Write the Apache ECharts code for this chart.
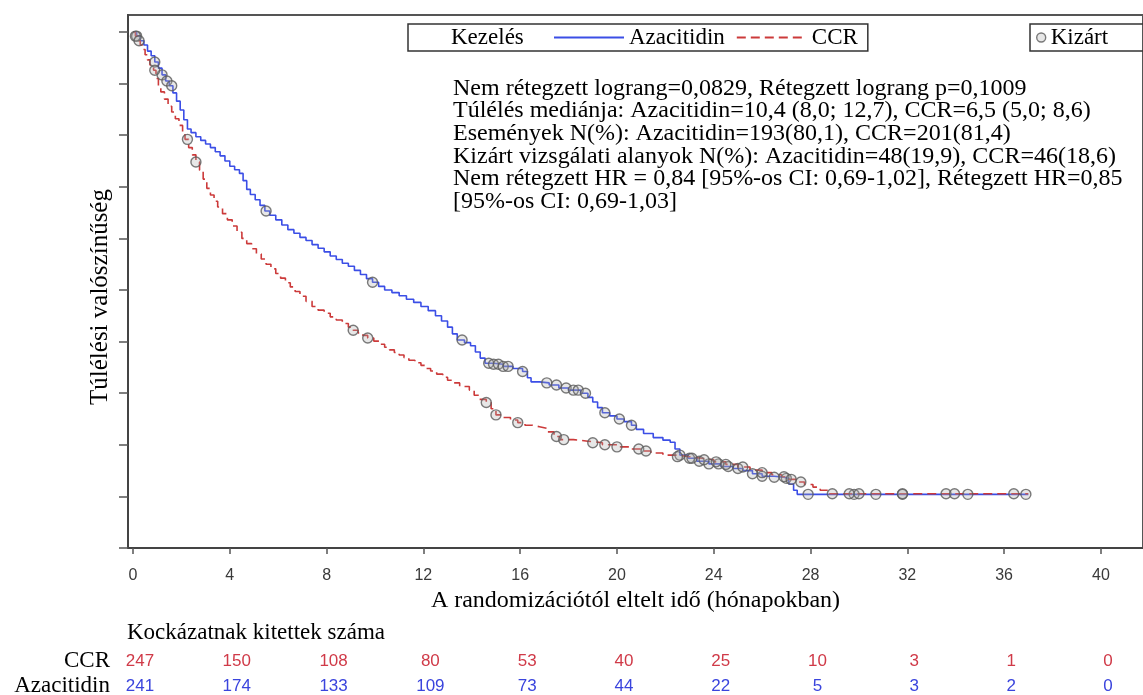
<!DOCTYPE html>
<html>
<head>
<meta charset="utf-8">
<script src="https://cdn.jsdelivr.net/npm/echarts@6.0.0/dist/echarts.min.js"></script>
<style>
html,body{margin:0;padding:0;background:#fff;}
#chart{width:1143px;height:695px;}
</style>
</head>
<body>
<div id="chart"></div>
<script>
// ---- Data ----
const xTicks = [0, 4, 8, 12, 16, 20, 24, 28, 32, 36, 40];
const yTicks = [0, 0.1, 0.2, 0.3, 0.4, 0.5, 0.6, 0.7, 0.8, 0.9, 1.0];

// Kaplan-Meier steps: [time (months), survival after the step]
const azaSteps = [
  [0,1.0],[0.15,0.992],[0.3,0.983],[0.45,0.975],[0.6,0.963],[0.75,0.954],[0.9,0.942],[1.05,0.930],
  [1.2,0.917],[1.35,0.905],[1.5,0.896],[1.65,0.882],[1.8,0.866],[1.95,0.849],[2.1,0.830],[2.25,0.812],
  [2.4,0.805],[2.6,0.797],[2.8,0.790],[3.0,0.783],[3.2,0.776],[3.4,0.768],[3.6,0.760],[3.8,0.750],
  [4.0,0.740],[4.2,0.733],[4.4,0.726],[4.55,0.712],[4.7,0.695],[4.85,0.685],[5.05,0.675],[5.25,0.664],
  [5.45,0.653],[5.65,0.645],[5.9,0.636],[6.15,0.626],[6.4,0.617],[6.65,0.610],[6.9,0.602],[7.15,0.596],
  [7.4,0.588],[7.65,0.581],[7.9,0.574],[8.15,0.566],[8.4,0.559],[8.65,0.552],[8.9,0.546],[9.15,0.538],
  [9.4,0.530],[9.65,0.522],[9.9,0.515],[10.15,0.507],[10.4,0.500],[10.7,0.495],[11.0,0.489],[11.3,0.482],
  [11.6,0.476],[11.9,0.468],[12.2,0.460],[12.5,0.450],[12.75,0.440],[13.0,0.428],[13.2,0.415],[13.4,0.403],
  [13.7,0.398],[13.95,0.392],[14.15,0.380],[14.35,0.368],[14.55,0.358],[14.9,0.356],[15.3,0.352],[15.7,0.348],
  [16.1,0.342],[16.3,0.330],[16.45,0.322],[16.8,0.320],[17.2,0.316],[17.6,0.310],[18.0,0.306],[18.5,0.300],
  [18.8,0.292],[19.0,0.283],[19.2,0.272],[19.4,0.262],[19.7,0.256],[20.0,0.250],[20.3,0.245],[20.6,0.238],
  [20.8,0.230],[21.1,0.222],[21.5,0.214],[21.9,0.209],[22.2,0.205],[22.4,0.192],[22.6,0.180],[22.95,0.174],
  [23.3,0.168],[23.8,0.163],[24.3,0.158],[24.8,0.154],[25.2,0.150],[25.6,0.144],[26.0,0.139],[26.5,0.137],
  [26.9,0.135],[27.1,0.124],[27.3,0.112],[27.45,0.104],[37.0,0.104]
];
const ccrSteps = [
  [0,1.0],[0.1,0.992],[0.2,0.983],[0.3,0.975],[0.4,0.966],[0.5,0.956],[0.6,0.946],[0.7,0.936],
  [0.85,0.926],[0.95,0.910],[1.05,0.895],[1.15,0.884],[1.3,0.870],[1.45,0.856],[1.6,0.845],[1.75,0.832],
  [1.9,0.819],[2.05,0.805],[2.15,0.792],[2.3,0.776],[2.45,0.762],[2.6,0.748],[2.75,0.732],[2.9,0.715],
  [3.05,0.697],[3.2,0.684],[3.35,0.672],[3.5,0.661],[3.7,0.648],[3.9,0.636],[4.1,0.624],[4.3,0.612],
  [4.5,0.600],[4.7,0.590],[4.9,0.580],[5.1,0.570],[5.3,0.560],[5.5,0.550],[5.7,0.541],[5.9,0.532],
  [6.1,0.523],[6.3,0.514],[6.5,0.506],[6.7,0.497],[6.9,0.488],[7.15,0.478],[7.4,0.468],[7.65,0.461],
  [7.9,0.455],[8.15,0.448],[8.4,0.442],[8.65,0.435],[8.9,0.428],[9.1,0.422],[9.3,0.417],[9.5,0.412],
  [9.7,0.407],[9.95,0.401],[10.2,0.395],[10.4,0.389],[10.6,0.384],[10.8,0.379],[11.0,0.374],[11.2,0.369],
  [11.4,0.364],[11.65,0.359],[11.9,0.354],[12.1,0.348],[12.3,0.343],[12.55,0.337],[12.8,0.331],[13.0,0.325],
  [13.2,0.320],[13.5,0.313],[13.9,0.306],[14.1,0.296],[14.3,0.288],[14.6,0.282],[14.8,0.270],[15.0,0.258],
  [15.3,0.253],[15.6,0.248],[15.9,0.243],[16.2,0.238],[16.5,0.235],[16.8,0.232],[17.1,0.225],[17.4,0.216],
  [17.65,0.210],[18.2,0.207],[18.8,0.204],[19.4,0.200],[20.0,0.196],[20.5,0.192],[21.0,0.188],[21.4,0.184],
  [21.9,0.180],[22.5,0.177],[23.0,0.174],[23.5,0.171],[24.0,0.167],[24.5,0.162],[25.0,0.157],[25.5,0.151],
  [26.0,0.146],[26.4,0.142],[26.8,0.138],[27.1,0.133],[27.4,0.128],[27.75,0.123],[28.1,0.118],[28.4,0.112],
  [28.7,0.105],[37.0,0.105]
];

// Censoring times (months)
const azaCensorTimes = [0.15, 0.9, 1.2, 1.4, 1.6, 5.5, 9.9, 13.6, 14.7, 14.9, 15.1, 15.3, 15.5,
  16.1, 17.1, 17.5, 17.9, 18.2, 18.4, 18.7, 19.5, 20.1, 20.6, 22.6, 23.0, 23.4, 23.8, 24.2,
  24.6, 25.0, 25.6, 26.0, 26.5, 27.0, 27.9, 29.8, 30.7, 31.8, 34.5, 36.9];
const ccrCensorTimes = [0.1, 0.25, 0.9, 2.25, 2.6, 9.1, 9.7, 14.6, 15.0, 15.9, 17.5, 17.8,
  19.0, 19.5, 20.0, 20.9, 21.2, 22.5, 23.1, 23.6, 24.1, 24.5, 25.2, 26.0, 26.9, 27.2, 27.6,
  28.9, 29.6, 30.0, 31.8, 33.6, 33.95, 36.4];

// Number at risk
const riskRows = ['CCR', 'Azacitidin'];
const atRiskTimes = [0, 4, 8, 12, 16, 20, 24, 28, 32, 36, 40];
const ccrAtRisk = [247, 150, 108, 80, 53, 40, 25, 10, 3, 1, 0];
const azaAtRisk = [241, 174, 133, 109, 73, 44, 22, 5, 3, 2, 0];

const annotationLines = [
  'Nem rétegzett lograng=0,0829, Rétegzett lograng p=0,1009',
  'Túlélés mediánja: Azacitidin=10,4 (8,0; 12,7), CCR=6,5 (5,0; 8,6)',
  'Események N(%): Azacitidin=193(80,1), CCR=201(81,4)',
  'Kizárt vizsgálati alanyok N(%): Azacitidin=48(19,9), CCR=46(18,6)',
  'Nem rétegzett HR = 0,84 [95%-os CI: 0,69-1,02], Rétegzett HR=0,85',
  '[95%-os CI: 0,69-1,03]'
];

// ---- helpers ----
function kmAt(steps, t) {
  let s = steps[0][1];
  for (const p of steps) { if (p[0] <= t) s = p[1]; else break; }
  return s;
}

const BLUE = '#3b4ee6';
const RED = '#cc3a3a';
const RISK_COLORS = ['#d03a48', '#3a44dd'];
const RISK_ROW_Y = [661, 686];
const SERIF = '"Liberation Serif", "Times New Roman", serif';
const SANS = '"Liberation Sans", Arial, sans-serif';
const X_MIN = -0.2066, X_MAX = 41.74;

const chart = echarts.init(document.getElementById('chart'), null, {renderer: 'canvas'});

const censorStyle = {
  color: 'rgba(170,170,170,0.35)',
  borderColor: '#5a5a5a',
  borderWidth: 1.4
};

const baseGraphics = [
  {
    type: 'text', x: 451, y: 38,
    style: {text: 'Kezelés', font: '23px ' + SERIF, fill: '#000', verticalAlign: 'middle', align: 'left'}
  },
  {
    type: 'text', x: 453, y: 77,
    style: {text: annotationLines.join('\n'), font: '24px ' + SERIF, fill: '#000', lineHeight: 22.7, verticalAlign: 'top', align: 'left'}
  },
  {
    type: 'text', x: 100, y: 297, rotation: Math.PI / 2,
    style: {text: 'Túlélési valószínűség', font: '25px ' + SERIF, fill: '#000', align: 'center', verticalAlign: 'middle'}
  },
  {
    type: 'text', x: 127, y: 633,
    style: {text: 'Kockázatnak kitettek száma', font: '23px ' + SERIF, fill: '#000', align: 'left', verticalAlign: 'middle'}
  }
];

const option = {
  backgroundColor: '#fff',
  animation: false,
  grid: {left: 128, right: 0, top: 15, bottom: 147, show: true, borderColor: '#555', borderWidth: 2},
  xAxis: {
    type: 'value', min: X_MIN, max: X_MAX,
    splitLine: {show: false},
    axisLine: {show: true, onZero: false, lineStyle: {color: '#444', width: 2}},
    axisTick: {show: true, inside: false, length: 6, customValues: xTicks, lineStyle: {color: '#555', width: 1.5}},
    axisLabel: {show: true, customValues: xTicks, margin: 20, color: '#3a3a3a', fontSize: 16, fontFamily: SANS},
    name: 'A randomizációtól eltelt idő (hónapokban)',
    nameLocation: 'middle', nameGap: 41,
    nameTextStyle: {fontFamily: SERIF, fontSize: 24, color: '#000'}
  },
  yAxis: {
    type: 'value', min: 0, max: 1.033,
    splitLine: {show: false},
    axisLine: {show: true, onZero: false, lineStyle: {color: '#444', width: 2}},
    axisTick: {show: true, inside: false, length: 9, customValues: yTicks, lineStyle: {color: '#555', width: 1.5}},
    axisLabel: {show: false}
  },
  legend: [
    {
      data: ['Azacitidin', 'CCR'],
      left: 408, top: 24, orient: 'horizontal',
      padding: [2, 10, 2, 145],
      itemWidth: 70, itemHeight: 14, itemGap: 11,
      itemStyle: {opacity: 0},
      borderColor: '#333', borderWidth: 1.5,
      textStyle: {fontFamily: SERIF, fontSize: 23, color: '#000'},
      selectedMode: false
    },
    {
      data: [{name: 'Kizárt', icon: 'circle', itemStyle: censorStyle}],
      left: 1030, top: 24,
      padding: [2, 40, 2, 6],
      itemWidth: 9, itemHeight: 9, itemGap: 4,
      borderColor: '#333', borderWidth: 1.5,
      textStyle: {fontFamily: SERIF, fontSize: 23, color: '#000'},
      selectedMode: false
    }
  ],
  graphic: baseGraphics,
  series: [
    {
      name: 'Azacitidin', type: 'line',
      step: 'end', symbol: 'none', data: azaSteps,
      lineStyle: {color: BLUE, width: 1.6}, itemStyle: {color: BLUE}, z: 3
    },
    {
      name: 'CCR', type: 'line',
      step: 'end', symbol: 'none', data: ccrSteps,
      lineStyle: {color: RED, width: 1.6, type: [9, 5]}, itemStyle: {color: RED}, z: 3
    },
    {
      name: 'Kizárt', type: 'scatter',
      symbol: 'circle', symbolSize: 10,
      data: azaCensorTimes.map(t => [t, kmAt(azaSteps, t)]),
      itemStyle: censorStyle, z: 4
    },
    {
      name: 'Kizárt', type: 'scatter',
      symbol: 'circle', symbolSize: 10,
      data: ccrCensorTimes.map(t => [t, kmAt(ccrSteps, t)]),
      itemStyle: censorStyle, z: 4
    }
  ]
};

chart.setOption(option);

// Number-at-risk table, positioned through the x axis scale
const riskGraphics = [];
riskRows.forEach((row, r) => {
  riskGraphics.push({
    type: 'text', x: 110, y: RISK_ROW_Y[r],
    style: {text: row, font: '23px ' + SERIF, fill: '#000', align: 'right', verticalAlign: 'middle'}
  });
});
[ccrAtRisk, azaAtRisk].forEach((arr, r) => {
  arr.forEach((n, i) => {
    const px = chart.convertToPixel({xAxisIndex: 0}, atRiskTimes[i]);
    riskGraphics.push({
      type: 'text', x: px + 7, y: RISK_ROW_Y[r],
      style: {text: String(n), font: '17px ' + SANS, fill: RISK_COLORS[r], align: 'center', verticalAlign: 'middle'}
    });
  });
});
chart.setOption({graphic: baseGraphics.concat(riskGraphics)});
</script>
</body>
</html>
